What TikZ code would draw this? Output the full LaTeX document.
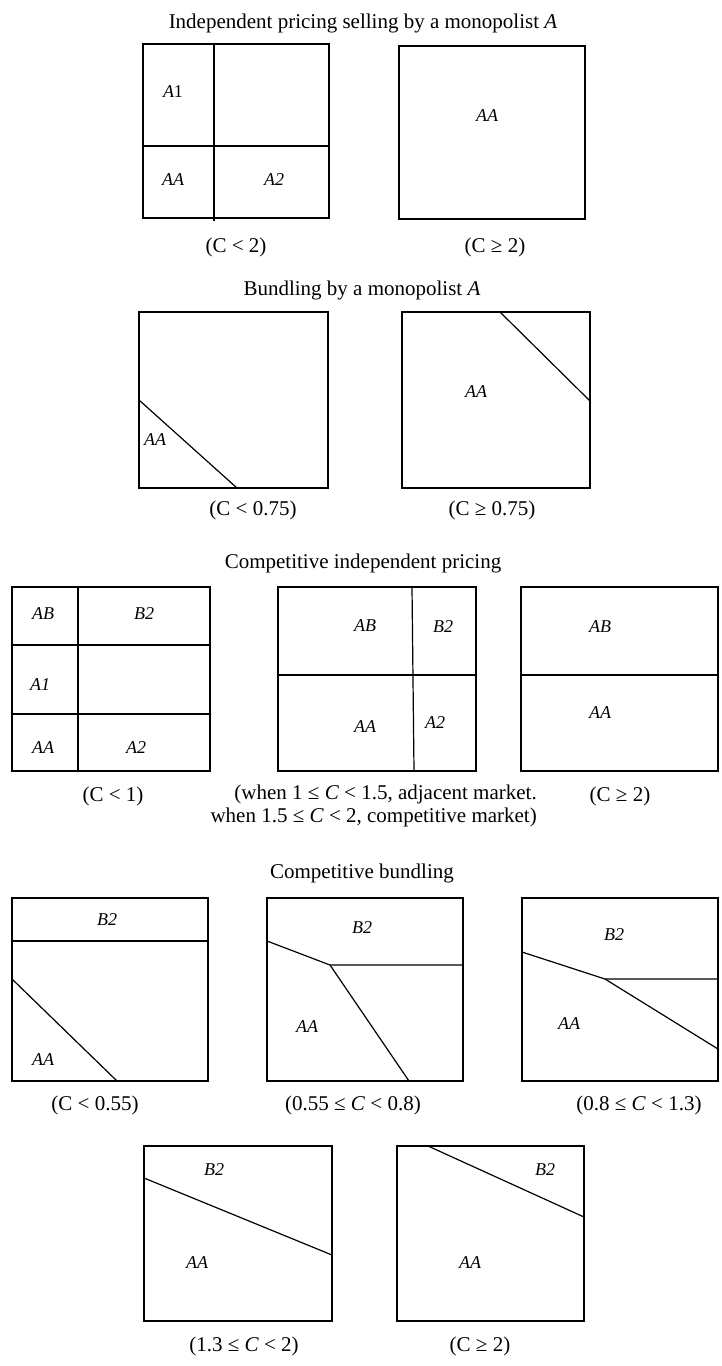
\documentclass[tikz,border=0pt]{standalone}
\usepackage{fontspec}
\setmainfont{Liberation Serif}
\newcommand\lblfont{\fontsize{18}{18}\selectfont\itshape}
\newcommand\capfont{\fontsize{21}{23}\selectfont}
\begin{document}
\begin{tikzpicture}[x=1pt,y=-1pt,
  box/.style={draw,line width=1.3pt},
  div/.style={draw,line width=1.2pt},
  lbl/.style={font=\lblfont,inner sep=0pt},
  captxt/.style={font=\capfont,inner sep=0pt},
  ttl/.style={font=\capfont,inner sep=0pt}]
\useasboundingbox[fill=white] (0,0) rectangle (721,1366);

% ---------- Independent pricing by monopolist ----------
\node[ttl] (t1) at (363,23) {Independent pricing selling by a monopolist \textit{A}};
\draw[box] (143,44) rectangle (329,218);
\draw[div] (214,44) -- (214,221);
\draw[div] (143,146) -- (329,146);
\node[lbl] (b1a) at (173,92) {A\upshape 1};
\node[lbl] (b1b) at (173,180) {AA};
\node[lbl] (b1c) at (274,180) {A2};
\node[captxt] (c1) at (236,247) {(C < 2)};

\draw[box] (399,46) rectangle (585,219);
\node[lbl] (b2a) at (487,116) {AA};
\node[captxt] (c2) at (495,247) {(C ≥ 2)};

% ---------- Bundling by monopolist ----------
\node[ttl] (t2) at (362,290) {Bundling by a monopolist \textit{A}};
\draw[box] (139,312) rectangle (328,488);
\draw[div] (139,400) -- (237,488);
\node[lbl] (b3a) at (155,440) {AA};
\node[captxt] (c3) at (253,510) {(C < 0.75)};

\draw[box] (402,312) rectangle (590,488);
\draw[div] (500,312) -- (590,401);
\node[lbl] (b4a) at (476,392) {AA};
\node[captxt] (c4) at (492,510) {(C ≥ 0.75)};

% ---------- Competitive independent pricing ----------
\node[ttl] (t3) at (363,563) {Competitive independent pricing};
\draw[box] (12,587) rectangle (210,771);
\draw[div] (78,587) -- (78,771);
\draw[div] (12,645) -- (210,645);
\draw[div] (12,714) -- (210,714);
\node[lbl] (b5a) at (43,614) {AB};
\node[lbl] (b5b) at (144,614) {B2};
\node[lbl] (b5c) at (40,685) {A1};
\node[lbl] (b5d) at (43,748) {AA};
\node[lbl] (b5e) at (136,748) {A2};
\node[captxt] (c5) at (113,796) {(C < 1)};

\draw[box] (278,587) rectangle (476,771);
\draw[div] (412,587) -- (414,771);
\draw[div] (278,675) -- (476,675);
\node[lbl] (b6a) at (365,626) {AB};
\node[lbl] (b6b) at (443,627) {B2};
\node[lbl] (b6c) at (365,727) {AA};
\node[lbl] (b6d) at (435,723) {A2};
\node[captxt,align=right,anchor=north east] (c6) at (537,785)
  {(when 1 ≤ \textit{C} < 1.5, adjacent market.\\when 1.5 ≤ \textit{C} < 2, competitive market)};

\draw[box] (521,587) rectangle (718,771);
\draw[div] (521,675) -- (718,675);
\node[lbl] (b7a) at (600,627) {AB};
\node[lbl] (b7b) at (600,713) {AA};
\node[captxt] (c7) at (620,796) {(C ≥ 2)};

% ---------- Competitive bundling ----------
\node[ttl] (t4) at (362,873) {Competitive bundling};
\draw[box] (12,898) rectangle (208,1081);
\draw[div] (12,941) -- (208,941);
\draw[div] (12,979) -- (117,1081);
\node[lbl] (b8a) at (107,920) {B2};
\node[lbl] (b8b) at (43,1060) {AA};
\node[captxt] (c8) at (95,1105) {(C < 0.55)};

\draw[box] (267,898) rectangle (463,1081);
\coordinate (k9) at (330,965);
\draw[div] (267,941) -- (k9) -- (463,965);
\draw[div] (k9) -- (409,1081);
\node[lbl] (b9a) at (362,928) {B2};
\node[lbl] (b9b) at (307,1027) {AA};
\node[captxt] (c9) at (353,1105) {(0.55 ≤ \textit{C} < 0.8)};

\draw[box] (522,898) rectangle (718,1081);
\coordinate (k10) at (605,979);
\draw[div] (522,952) -- (k10) -- (718,979);
\draw[div] (k10) -- (718,1049);
\node[lbl] (b10a) at (614,935) {B2};
\node[lbl] (b10b) at (569,1024) {AA};
\node[captxt] (c10) at (639,1105) {(0.8 ≤ \textit{C} < 1.3)};

\draw[box] (144,1146) rectangle (332,1321);
\draw[div] (144,1178) -- (332,1255);
\node[lbl] (b11a) at (214,1170) {B2};
\node[lbl] (b11b) at (197,1263) {AA};
\node[captxt] (c11) at (244,1346) {(1.3 ≤ \textit{C} < 2)};

\draw[box] (397,1146) rectangle (584,1321);
\draw[div] (428,1146) -- (584,1217);
\node[lbl] (b12a) at (545,1170) {B2};
\node[lbl] (b12b) at (470,1263) {AA};
\node[captxt] (c12) at (480,1346) {(C ≥ 2)};
\end{tikzpicture}
\end{document}
